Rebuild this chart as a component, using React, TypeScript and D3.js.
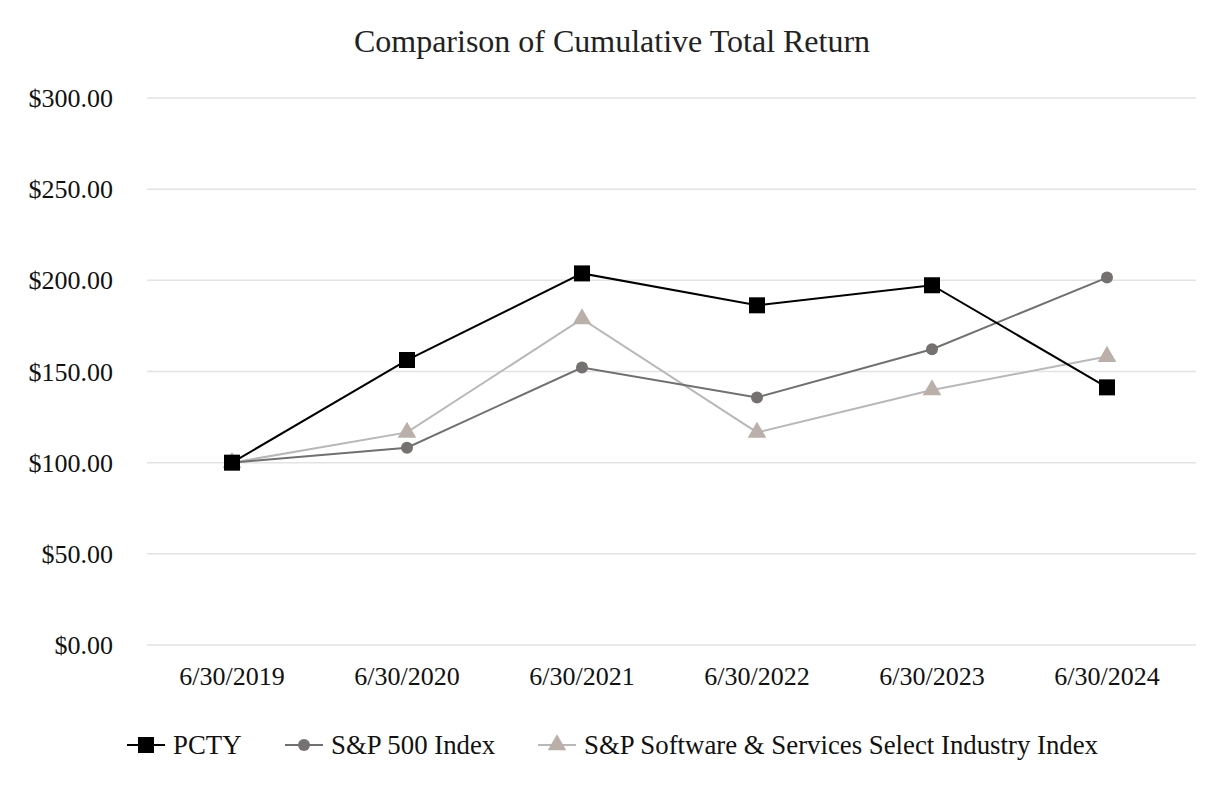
import * as d3 from "d3";

const years = ["6/30/2019", "6/30/2020", "6/30/2021", "6/30/2022", "6/30/2023", "6/30/2024"];
const pcty = [100, 156.3, 203.8, 186.3, 197.3, 141.3];
const sp500 = [100, 108.2, 152.2, 135.8, 162.2, 201.5];
const software = [100, 116.6, 178.8, 116.6, 139.9, 158.2];
const yTicks = [0, 50, 100, 150, 200, 250, 300];

const series = [
  { name: "PCTY", values: pcty, line: "#000000", fill: "#000000", shape: "square" },
  { name: "S&P 500 Index", values: sp500, line: "#707070", fill: "#767171", shape: "circle" },
  { name: "S&P Software & Services Select Industry Index", values: software, line: "#b8b8b8", fill: "#bab0a9", shape: "triangle" },
];

const width = 1226;
const height = 800;
const margin = { top: 98, bottom: 155 };
const gridLeft = 147;
const gridRight = 1196;
const font = "'Liberation Serif', 'Times New Roman', serif";

function Marker({ shape, x, y, fill }: { shape: string; x: number; y: number; fill: string }) {
  if (shape === "square") return <rect x={x - 8} y={y - 8} width={16} height={16} fill={fill} />;
  if (shape === "circle") return <circle cx={x} cy={y} r={6} fill={fill} />;
  const sym = d3.symbol(d3.symbolTriangle, 150)();
  return <path d={sym ?? ""} transform={`translate(${x},${y})`} fill={fill} />;
}

export default function App() {
  const x = d3.scaleBand<string>().domain(years).range([144.5, 1194.5]);
  const y = d3
    .scaleLinear()
    .domain([0, 300])
    .range([height - margin.bottom, margin.top]);
  const cx = (d: string) => (x(d) ?? 0) + x.bandwidth() / 2;
  const line = d3
    .line<number>()
    .x((_, i) => cx(years[i]))
    .y((v) => y(v));

  const legendX = [127, 285, 538];

  return (
    <svg width={width} height={height} style={{ position: "absolute", left: 0, top: 0 }} fontFamily={font}>
      <rect width={width} height={height} fill="#fff" />
      <text x={612} y={52} textAnchor="middle" fontSize={32} fill="#222">
        Comparison of Cumulative Total Return
      </text>
      {yTicks.map((t) => (
        <g key={t}>
          <line x1={gridLeft} x2={gridRight} y1={y(t)} y2={y(t)} stroke="#e3e3e3" strokeWidth={1.5} />
          <text x={113} y={y(t)} dy="0.35em" textAnchor="end" fontSize={26} fill="#111">
            {d3.format("$,.2f")(t)}
          </text>
        </g>
      ))}
      {years.map((yr) => (
        <text key={yr} x={cx(yr)} y={685} textAnchor="middle" fontSize={26} fill="#111">
          {yr}
        </text>
      ))}
      {series
        .slice()
        .reverse()
        .map((s) => (
          <path key={s.name} d={line(s.values) ?? ""} fill="none" stroke={s.line} strokeWidth={2} />
        ))}
      {series
        .slice()
        .reverse()
        .map((s) => (
          <g key={s.name + "m"}>
            {s.values.map((v, i) => (
              <Marker key={i} shape={s.shape} x={cx(years[i])} y={y(v)} fill={s.fill} />
            ))}
          </g>
        ))}
      {series.map((s, i) => (
        <g key={s.name + "l"} transform={`translate(${legendX[i]},745)`}>
          <line x1={0} x2={38} y1={0} y2={0} stroke={s.line} strokeWidth={2} />
          <Marker shape={s.shape} x={19} y={0} fill={s.fill} />
          <text x={46} y={0} dy="0.35em" fontSize={26.8} fill="#111">
            {s.name}
          </text>
        </g>
      ))}
    </svg>
  );
}
